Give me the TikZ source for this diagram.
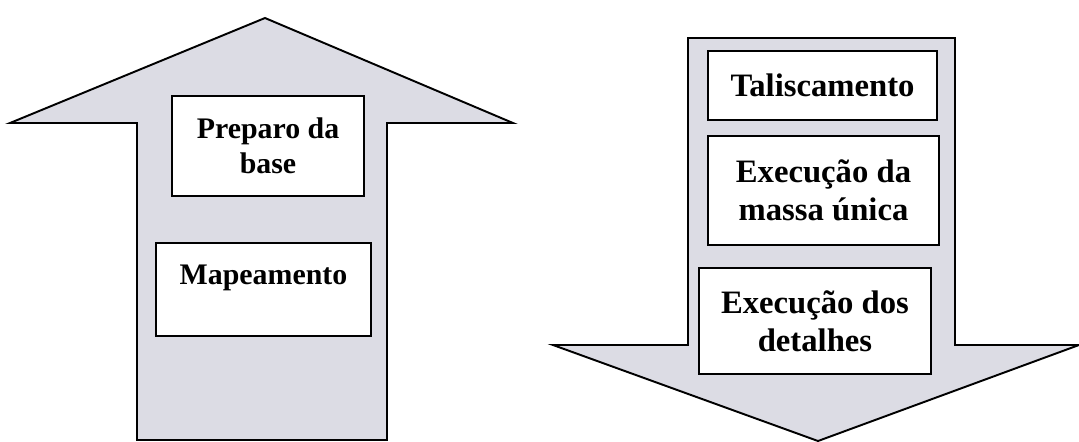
\documentclass[tikz,border=0pt]{standalone}
\usepackage{fontspec}
\setmainfont{Liberation Serif}
\usepackage{tikz}
\usetikzlibrary{positioning}

\definecolor{setacinza}{RGB}{220,220,228}

\tikzset{
  seta/.style={draw=black, line width=1.1pt, fill=setacinza, line join=miter},
  stepbox/.style={draw=black, line width=1.1pt, fill=white, inner sep=0pt,
    align=center, font=\fontsize{17}{19.8}\selectfont\bfseries},
  stepboxgr/.style={stepbox, font=\fontsize{18.6}{21.4}\selectfont\bfseries}
}

\begin{document}
\begin{tikzpicture}[x=0.02cm, y=-0.02cm]

    % Fundo
    \useasboundingbox[fill=white] (0,0) rectangle (1079,441);

    % Seta para cima
    \draw[seta] (137,440) -- (137,123) -- (10,123) -- (265,18) -- (513,123)
        -- (387,123) -- (387,440) -- cycle;

    % Seta para baixo
    \draw[seta] (688,38) -- (955,38) -- (955,345) -- (1079,345) -- (818,441)
        -- (553,345) -- (688,345) -- cycle;

    % Etapas da seta esquerda
    \node[stepbox, minimum width=3.84cm, minimum height=2.0cm] (preparo) at (268,146) {Preparo da\\base};
    \node[stepbox, minimum width=4.3cm, minimum height=1.86cm, text depth=0.6cm] (mapeamento) at (263.5,289.5) {Mapeamento};

    % Etapas da seta direita
    \node[stepboxgr, minimum width=4.58cm, minimum height=1.38cm] (talisca) at (822.5,85.5) {Taliscamento};
    \node[stepboxgr, minimum width=4.62cm, minimum height=2.18cm] (massa) at (823.5,190.5) {Execução da\\massa única};
    \node[stepboxgr, minimum width=4.64cm, minimum height=2.12cm] (detalhes) at (815,321) {Execução dos\\detalhes};

\end{tikzpicture}
\end{document}
